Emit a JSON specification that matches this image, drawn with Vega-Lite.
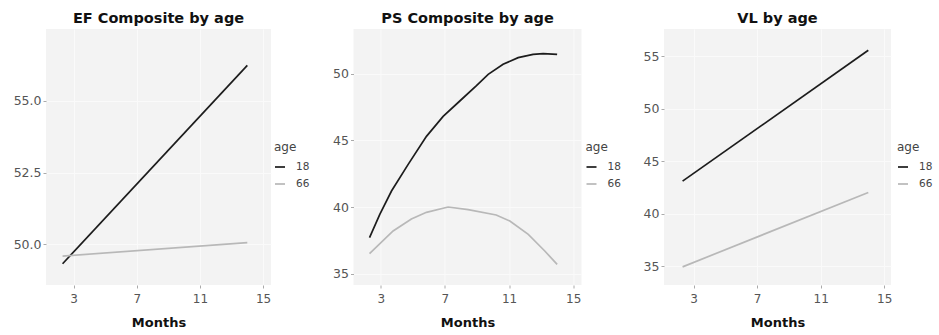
{
  "$schema": "https://vega.github.io/schema/vega-lite/v6.json",
  "padding": {"left": 13, "top": 10, "right": 5, "bottom": 5},
  "spacing": 82.5,
  "bounds": "flush",
  "data": {"values": [
    {"panel": "EF", "age": "18", "month": 2.3, "value": 49.32},
    {"panel": "EF", "age": "18", "month": 14.0, "value": 56.24},
    {"panel": "EF", "age": "66", "month": 2.3, "value": 49.59},
    {"panel": "EF", "age": "66", "month": 14.0, "value": 50.06},
    {"panel": "PS", "age": "18", "month": 2.3, "value": 37.7},
    {"panel": "PS", "age": "18", "month": 2.94, "value": 39.45},
    {"panel": "PS", "age": "18", "month": 3.67, "value": 41.2},
    {"panel": "PS", "age": "18", "month": 4.71, "value": 43.2},
    {"panel": "PS", "age": "18", "month": 5.85, "value": 45.3},
    {"panel": "PS", "age": "18", "month": 6.89, "value": 46.8},
    {"panel": "PS", "age": "18", "month": 7.93, "value": 47.95},
    {"panel": "PS", "age": "18", "month": 8.97, "value": 49.1},
    {"panel": "PS", "age": "18", "month": 9.7, "value": 49.95},
    {"panel": "PS", "age": "18", "month": 10.63, "value": 50.7},
    {"panel": "PS", "age": "18", "month": 11.57, "value": 51.2},
    {"panel": "PS", "age": "18", "month": 12.5, "value": 51.45},
    {"panel": "PS", "age": "18", "month": 13.13, "value": 51.5},
    {"panel": "PS", "age": "18", "month": 14.0, "value": 51.45},
    {"panel": "PS", "age": "66", "month": 2.3, "value": 36.5},
    {"panel": "PS", "age": "66", "month": 3.77, "value": 38.2},
    {"panel": "PS", "age": "66", "month": 4.91, "value": 39.1},
    {"panel": "PS", "age": "66", "month": 5.85, "value": 39.6},
    {"panel": "PS", "age": "66", "month": 7.2, "value": 40.0},
    {"panel": "PS", "age": "66", "month": 8.45, "value": 39.8},
    {"panel": "PS", "age": "66", "month": 10.2, "value": 39.4},
    {"panel": "PS", "age": "66", "month": 11.05, "value": 38.95},
    {"panel": "PS", "age": "66", "month": 12.2, "value": 37.95},
    {"panel": "PS", "age": "66", "month": 13.23, "value": 36.7},
    {"panel": "PS", "age": "66", "month": 14.0, "value": 35.7},
    {"panel": "VL", "age": "18", "month": 2.3, "value": 43.1},
    {"panel": "VL", "age": "18", "month": 14.0, "value": 55.57},
    {"panel": "VL", "age": "66", "month": 2.3, "value": 34.93},
    {"panel": "VL", "age": "66", "month": 14.0, "value": 42.02}
  ]},
  "config": {
    "font": "DejaVu Sans",
    "view": {"fill": "#f3f3f3", "stroke": null},
    "axis": {
      "grid": true,
      "gridColor": "#fafafa",
      "gridWidth": 1,
      "domain": false,
      "tickColor": "#aaaaaa",
      "tickSize": 3,
      "labelColor": "#555555",
      "labelFontSize": 12,
      "labelPadding": 5,
      "titleFontSize": 13,
      "titleFontWeight": "bold",
      "titleColor": "#111111",
      "titlePadding": 12
    },
    "axisY": {"labelPadding": 2},
    "title": {"fontSize": 14.5, "fontWeight": "bold", "color": "#111111", "offset": 3, "anchor": "middle", "frame": "group"},
    "legend": {
      "titleFontSize": 12,
      "titleFontWeight": "normal",
      "titleColor": "#444444",
      "labelFontSize": 10.5,
      "labelColor": "#444444",
      "symbolType": "stroke",
      "symbolSize": 100,
      "symbolStrokeWidth": 2.2,
      "labelOffset": 10,
      "rowPadding": 5,
      "titlePadding": 7
    },
    "line": {"strokeWidth": 1.7}
  },
  "resolve": {
    "scale": {"color": "independent", "x": "independent", "y": "independent"},
    "legend": {"color": "independent"}
  },
  "hconcat": [
    {
      "width": 225, "height": 256,
      "title": "EF Composite by age",
      "transform": [{"filter": "datum.panel === 'EF'"}],
      "mark": {"type": "line"},
      "encoding": {
        "x": {"field": "month", "type": "quantitative", "scale": {"domain": [1.25, 15.5], "nice": false, "zero": false}, "axis": {"values": [3, 7, 11, 15], "title": "Months"}},
        "y": {"field": "value", "type": "quantitative", "scale": {"domain": [48.58, 57.51], "nice": false, "zero": false}, "axis": {"values": [50, 52.5, 55], "format": ".1f", "title": null, "labelFontSize": 12.5}},
        "color": {"field": "age", "type": "nominal", "scale": {"domain": ["18", "66"], "range": ["#1c1c1c", "#b8b8b8"]}, "legend": {"orient": "none", "legendX": 228, "legendY": 113}}
      }
    },
    {
      "width": 228, "height": 256,
      "title": "PS Composite by age",
      "transform": [{"filter": "datum.panel === 'PS'"}],
      "mark": {"type": "line"},
      "encoding": {
        "x": {"field": "month", "type": "quantitative", "scale": {"domain": [1.3, 15.52], "nice": false, "zero": false}, "axis": {"values": [3, 7, 11, 15], "title": "Months"}},
        "y": {"field": "value", "type": "quantitative", "scale": {"domain": [34.15, 53.35], "nice": false, "zero": false}, "axis": {"values": [35, 40, 45, 50], "title": null, "labelFontSize": 12.5}},
        "color": {"field": "age", "type": "nominal", "scale": {"domain": ["18", "66"], "range": ["#1c1c1c", "#b8b8b8"]}, "legend": {"orient": "none", "legendX": 232, "legendY": 113}}
      }
    },
    {
      "width": 227, "height": 256,
      "title": "VL by age",
      "transform": [{"filter": "datum.panel === 'VL'"}],
      "mark": {"type": "line"},
      "encoding": {
        "x": {"field": "month", "type": "quantitative", "scale": {"domain": [1.13, 15.43], "nice": false, "zero": false}, "axis": {"values": [3, 7, 11, 15], "title": "Months"}},
        "y": {"field": "value", "type": "quantitative", "scale": {"domain": [33.2, 57.6], "nice": false, "zero": false}, "axis": {"values": [35, 40, 45, 50, 55], "title": null, "labelFontSize": 12.5}},
        "color": {"field": "age", "type": "nominal", "scale": {"domain": ["18", "66"], "range": ["#1c1c1c", "#b8b8b8"]}, "legend": {"orient": "none", "legendX": 233, "legendY": 113}}
      }
    }
  ]
}
